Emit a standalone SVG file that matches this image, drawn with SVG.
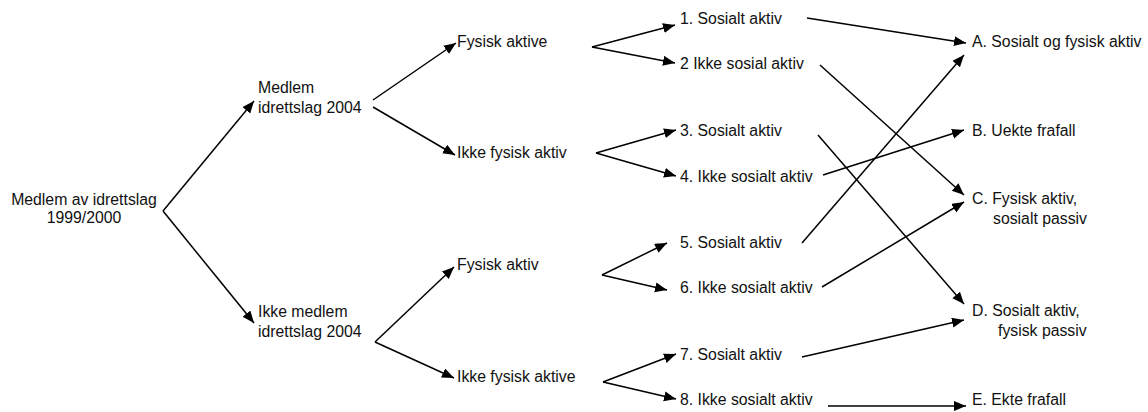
<svg xmlns="http://www.w3.org/2000/svg" width="1148" height="412" viewBox="0 0 1148 412">
<defs>
<marker id="ah" markerUnits="userSpaceOnUse" markerWidth="14" markerHeight="12" refX="12" refY="5" orient="auto">
<path d="M0,0 L12,5 L0,10 z" fill="#000"/>
</marker>
<style>
text{font-family:"Liberation Sans",Arial,sans-serif;font-size:15.8px;fill:#111}
.c line{stroke:#000;stroke-width:1.5;fill:none}
.a{marker-end:url(#ah)}
</style>
</defs>
<rect width="1148" height="412" fill="#fff"/>
<g id="root"><text x="84" y="205" text-anchor="middle">Medlem av idrettslag</text><text x="84" y="223" text-anchor="middle">1999/2000</text></g>
<g id="medlem"><text x="258" y="93">Medlem</text><text x="258" y="113">idrettslag 2004</text></g>
<g id="ikkemedlem"><text x="258" y="317">Ikke medlem</text><text x="258" y="337">idrettslag 2004</text></g>
<g id="fa1"><text x="457" y="47">Fysisk aktive</text></g>
<g id="ifa1"><text x="457" y="158">Ikke fysisk aktiv</text></g>
<g id="fa2"><text x="457" y="270">Fysisk aktiv</text></g>
<g id="ifa2"><text x="457" y="382">Ikke fysisk aktive</text></g>
<g id="n1"><text x="680" y="24">1. Sosialt aktiv</text></g>
<g id="n2"><text x="680" y="69">2 Ikke sosial aktiv</text></g>
<g id="n3"><text x="680" y="136">3. Sosialt aktiv</text></g>
<g id="n4"><text x="680" y="182">4. Ikke sosialt aktiv</text></g>
<g id="n5"><text x="680" y="248">5. Sosialt aktiv</text></g>
<g id="n6"><text x="680" y="293">6. Ikke sosialt aktiv</text></g>
<g id="n7"><text x="680" y="360">7. Sosialt aktiv</text></g>
<g id="n8"><text x="680" y="405">8. Ikke sosialt aktiv</text></g>
<g id="A"><text x="972" y="47">A. Sosialt og fysisk aktiv</text></g>
<g id="B"><text x="972" y="136">B. Uekte frafall</text></g>
<g id="C"><text x="972" y="204">C. Fysisk aktiv,</text><text x="993" y="224">sosialt passiv</text></g>
<g id="D"><text x="972" y="316">D. Sosialt aktiv,</text><text x="998" y="336">fysisk passiv</text></g>
<g id="E"><text x="972" y="405">E. Ekte frafall</text></g>
<g id="connectors" class="c">
<line class="a" x1="163" y1="211" x2="254" y2="101"/>
<line class="a" x1="163" y1="211" x2="254" y2="323"/>
<line class="a" x1="373" y1="100" x2="456" y2="43"/>
<line class="a" x1="373" y1="107" x2="455" y2="155"/>
<line class="a" x1="375" y1="342" x2="454" y2="267"/>
<line class="a" x1="375" y1="342" x2="454" y2="378"/>
<line class="a" x1="592" y1="47" x2="675" y2="25"/>
<line class="a" x1="592" y1="47" x2="675" y2="63"/>
<line class="a" x1="596" y1="153" x2="676" y2="130"/>
<line class="a" x1="596" y1="153" x2="676" y2="176"/>
<line class="a" x1="602" y1="275" x2="667" y2="243"/>
<line class="a" x1="602" y1="275" x2="667" y2="290"/>
<line class="a" x1="603" y1="382" x2="676" y2="354"/>
<line class="a" x1="603" y1="382" x2="676" y2="399"/>
<line class="a" x1="807" y1="18" x2="966" y2="43"/>
<line class="a" x1="820" y1="65" x2="964" y2="195"/>
<line class="a" x1="818" y1="135" x2="964" y2="304"/>
<line class="a" x1="823" y1="175" x2="964" y2="130"/>
<line class="a" x1="802" y1="243" x2="964" y2="55"/>
<line class="a" x1="822" y1="287" x2="964" y2="202"/>
<line class="a" x1="802" y1="357" x2="964" y2="320"/>
<line class="a" x1="828" y1="406" x2="966" y2="406"/>
</g>
</svg>
